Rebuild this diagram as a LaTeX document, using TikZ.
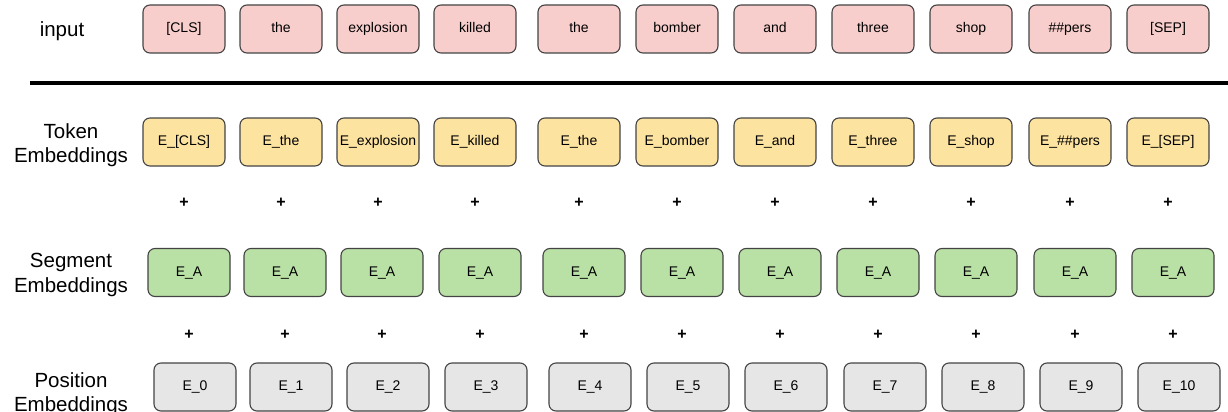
\documentclass[tikz,border=0pt]{standalone}
\usepackage{fontspec}
\setmainfont{Liberation Sans}
\begin{document}
\definecolor{inputfill}{HTML}{F8CECC}
\definecolor{tokenfill}{HTML}{FDE3A0}
\definecolor{segfill}{HTML}{B9E0A5}
\definecolor{posfill}{HTML}{E6E6E6}
\definecolor{boxline}{HTML}{444444}
\begin{tikzpicture}[x=1pt,y=-1pt,
  cell/.style={draw=boxline, line width=1.1pt, rounded corners=7pt,
    minimum width=82pt, minimum height=48pt, inner sep=0pt,
    text height=10.5pt, text depth=3pt,
    font=\fontsize{14}{16}\selectfont},
  inputcell/.style={cell, fill=inputfill},
  tokencell/.style={cell, fill=tokenfill},
  segcell/.style={cell, fill=segfill},
  poscell/.style={cell, fill=posfill},
  rowlabel/.style={align=center, inner sep=0pt,
    font=\fontsize{20.5}{24.5}\selectfont},
  plussign/.style={inner sep=0pt, font=\fontsize{16}{18}\selectfont\bfseries}]
\useasboundingbox (0,0) rectangle (1228,412);

% row labels
\node[rowlabel, anchor=base] (lblinput) at (62,37) {input};
\node[rowlabel] (lbltok) at (71,145) {Token\\Embeddings};
\node[rowlabel] (lblseg) at (71,275) {Segment\\Embeddings};
\node[rowlabel] (lblpos) at (71,394) {Position\\Embeddings};

% separator between the input and the embeddings
\coordinate (sepL) at (30,83);
\coordinate (sepR) at (1228,83);
\draw[line width=3.5pt] (sepL) -- (sepR);

% input tokens and token embeddings
\foreach \x/\w [count=\i from 0] in
  {184/{[CLS]}, 281/the, 378/explosion, 475/killed, 579/the, 677/bomber,
   775/and, 873/three, 971/shop, 1070/{\#\#pers}, 1168/{[SEP]}} {
  \node[inputcell] (in\i) at (\x,29) {\w};
  \node[tokencell] (tok\i) at (\x,142) {E\_\w};
  \node[plussign] (plusA\i) at (\x,203) {+};
}

% segment embeddings
\foreach \x [count=\i from 0] in
  {189, 285, 382, 480, 584, 682, 780, 878, 976, 1075, 1173} {
  \node[segcell] (seg\i) at (\x,272.5) {E\_A};
  \node[plussign] (plusB\i) at (\x,335) {+};
}

% position embeddings
\foreach \x [count=\i from 0] in
  {195, 291, 388, 486, 590, 688, 786, 885, 983, 1081, 1179} {
  \node[poscell] (pos\i) at (\x,387) {E\_\i};
}
\end{tikzpicture}
\end{document}
